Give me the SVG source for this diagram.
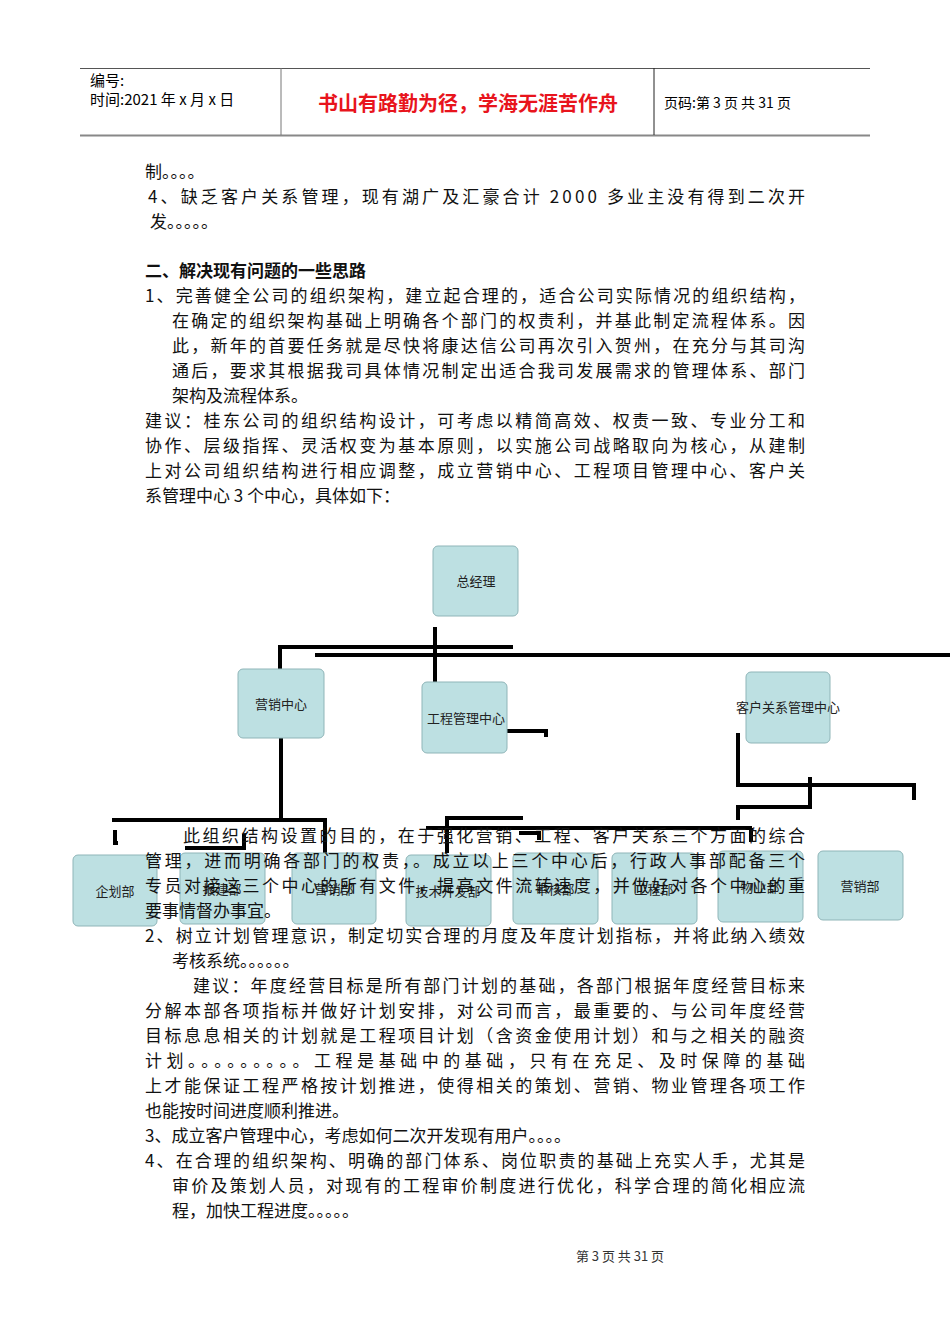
<svg xmlns="http://www.w3.org/2000/svg" width="950" height="1344" viewBox="0 0 950 1344">
<style>
.b{fill:#bde0e2;stroke:#8fb5b8;stroke-width:1}
.bl{font-family:"Noto Sans CJK SC","Liberation Sans",sans-serif;font-size:13px;fill:#222;text-anchor:middle}
.t{font-family:"Noto Sans CJK SC","Liberation Serif",serif;font-size:17px;fill:#111}
.c{fill:none;stroke:#000;stroke-width:4}
</style>
<rect width="950" height="1344" fill="#fff"/>
<g id="header">
<line x1="80" y1="68.5" x2="870" y2="68.5" stroke="#555" stroke-width="1"/>
<line x1="80" y1="135.5" x2="870" y2="135.5" stroke="#888" stroke-width="2"/>
<line x1="281" y1="68" x2="281" y2="135" stroke="#777"/>
<line x1="654" y1="68" x2="654" y2="135" stroke="#222"/>
<text x="90" y="86" font-family="'Noto Sans CJK SC',sans-serif" font-size="15">编号:</text>
<text x="90" y="105" font-family="'Noto Sans CJK SC',sans-serif" font-size="15">时间:2021 年 x 月 x 日</text>
<text x="468" y="111" text-anchor="middle" font-family="'Noto Sans CJK SC',sans-serif" font-size="20" font-weight="bold" fill="#e8141c">书山有路勤为径，学海无涯苦作舟</text>
<text x="664" y="108" font-family="'Noto Sans CJK SC',sans-serif" font-size="14">页码:第 3 页  共 31 页</text>
</g>
<g id="connectors">
<path class="c" d="M435 627V683M280 670V647H513M315 655H950"/>
<path class="c" d="M281 738V820M112 820H325V853M115 830V843H118M185 848H244V834"/>
<path class="c" d="M507 731H546V737M447 853V818H523M426 828H752M519 833H539V840"/>
<path class="c" d="M738 733V785H914V800M810 777V807H738V820M751 828V842"/>
</g>
<g id="n0"><rect class="b" x="433" y="546" width="85" height="70" rx="5"/><text class="bl" x="476" y="586">总经理</text></g>
<g id="n1"><rect class="b" x="238" y="669" width="86" height="69" rx="5"/><text class="bl" x="281" y="709">营销中心</text></g>
<g id="n2"><rect class="b" x="422" y="682" width="85" height="71" rx="5"/><text class="bl" x="466" y="723">工程管理中心</text></g>
<g id="n3"><rect class="b" x="746" y="672" width="84" height="71" rx="5"/><text class="bl" x="788" y="712">客户关系管理中心</text></g>
<g id="d1"><rect class="b" x="73" y="855" width="84" height="71" rx="5"/><text class="bl" x="115" y="896">企划部</text></g>
<g id="d2"><rect class="b" x="180" y="853" width="85" height="71" rx="5"/><text class="bl" x="222" y="894">报建部</text></g>
<g id="d3"><rect class="b" x="292" y="853" width="84" height="71" rx="5"/><text class="bl" x="334" y="894">营销部</text></g>
<g id="d4"><rect class="b" x="406" y="855" width="85" height="71" rx="5"/><text class="bl" x="448" y="896">技术开发部</text></g>
<g id="d5"><rect class="b" x="513" y="853" width="85" height="71" rx="5"/><text class="bl" x="555" y="894">审核部</text></g>
<g id="d6"><rect class="b" x="612" y="853" width="85" height="71" rx="5"/><text class="bl" x="654" y="894">工程部</text></g>
<g id="d7"><rect class="b" x="718" y="851" width="85" height="71" rx="5"/><text class="bl" x="760" y="892">物业部</text></g>
<g id="d8"><rect class="b" x="818" y="851" width="85" height="69" rx="5"/><text class="bl" x="860" y="891">营销部</text></g>
<g id="body" class="t">
<text x="145" y="178">制。。。。</text>
<text x="148" y="203" textLength="657">4、缺乏客户关系管理，现有湖广及汇豪合计 2000 多业主没有得到二次开</text>
<text x="150" y="228">发。。。。。</text>
<text x="145" y="277" font-weight="bold">二、解决现有问题的一些思路</text>
<text x="145" y="302" textLength="660">1、完善健全公司的组织架构，建立起合理的，适合公司实际情况的组织结构，</text>
<text x="172" y="327" textLength="633">在确定的组织架构基础上明确各个部门的权责利，并基此制定流程体系。因</text>
<text x="172" y="352" textLength="633">此，新年的首要任务就是尽快将康达信公司再次引入贺州，在充分与其司沟</text>
<text x="172" y="377" textLength="633">通后，要求其根据我司具体情况制定出适合我司发展需求的管理体系、部门</text>
<text x="172" y="402">架构及流程体系。</text>
<text x="145" y="427" textLength="660">建议：桂东公司的组织结构设计，可考虑以精简高效、权责一致、专业分工和</text>
<text x="145" y="452" textLength="660">协作、层级指挥、灵活权变为基本原则，以实施公司战略取向为核心，从建制</text>
<text x="145" y="477" textLength="660">上对公司组织结构进行相应调整，成立营销中心、工程项目管理中心、客户关</text>
<text x="145" y="502">系管理中心 3 个中心，具体如下：</text>
<text x="183" y="842" textLength="622">此组织结构设置的目的，在于强化营销、工程、客户关系三个方面的综合</text>
<text x="145" y="867" textLength="660">管理，进而明确各部门的权责，。成立以上三个中心后，行政人事部配备三个</text>
<text x="145" y="892" textLength="660">专员对接这三个中心的所有文件，提高文件流转速度，并做好对各个中心的重</text>
<text x="145" y="917">要事情督办事宜。</text>
<text x="145" y="942" textLength="660">2、树立计划管理意识，制定切实合理的月度及年度计划指标，并将此纳入绩效</text>
<text x="172" y="967">考核系统。。。。。。</text>
<text x="193" y="992" textLength="612">建议：年度经营目标是所有部门计划的基础，各部门根据年度经营目标来</text>
<text x="145" y="1017" textLength="660">分解本部各项指标并做好计划安排，对公司而言，最重要的、与公司年度经营</text>
<text x="145" y="1042" textLength="660">目标息息相关的计划就是工程项目计划（含资金使用计划）和与之相关的融资</text>
<text x="145" y="1067" textLength="660">计划。。。。。。。。。工程是基础中的基础，只有在充足、及时保障的基础</text>
<text x="145" y="1092" textLength="660">上才能保证工程严格按计划推进，使得相关的策划、营销、物业管理各项工作</text>
<text x="145" y="1117">也能按时间进度顺利推进。</text>
<text x="145" y="1142">3、成立客户管理中心，考虑如何二次开发现有用户。。。。</text>
<text x="145" y="1167" textLength="660">4、在合理的组织架构、明确的部门体系、岗位职责的基础上充实人手，尤其是</text>
<text x="172" y="1192" textLength="633">审价及策划人员，对现有的工程审价制度进行优化，科学合理的简化相应流</text>
<text x="172" y="1217">程，加快工程进度。。。。。</text>
</g>
<text x="620" y="1261" text-anchor="middle" font-family="'Noto Sans CJK SC',serif" font-size="13" fill="#333">第 3 页 共 31 页</text>
</svg>
